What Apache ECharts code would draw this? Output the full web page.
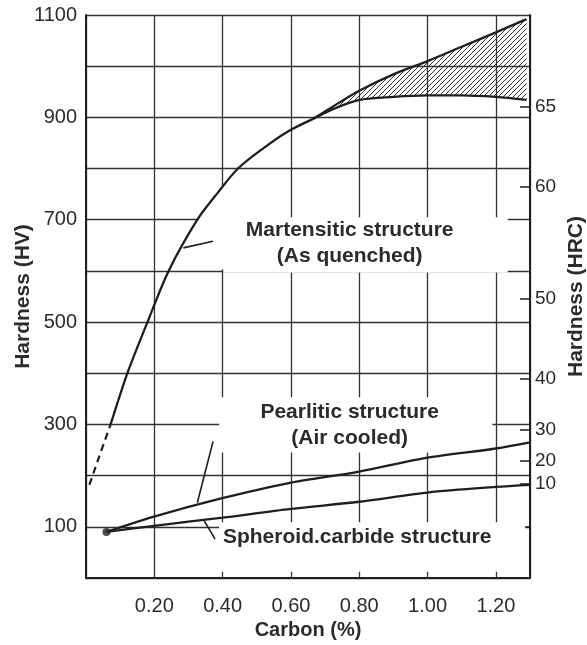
<!DOCTYPE html>
<html style="height: 100%">
<head>
<meta charset="utf-8">
<script src="https://cdn.jsdelivr.net/npm/echarts@6/dist/echarts.min.js"></script>
</head>
<body style="height: 100%; margin: 0; background: #fff">
<div id="container" style="width: 587px; height: 645px"></div>
<script type="text/javascript">
// carbon (%) vs hardness (HV)
var martDashed = [[0.01, 182], [0.04, 240], [0.072, 300]];
var martSolid = [[0.072, 300], [0.121, 400], [0.18, 500], [0.242, 600], [0.326, 700],
                 [0.385, 752], [0.445, 800], [0.52, 840], [0.59, 872], [0.665, 897]];
var hatchCarbon = [0.665, 0.72, 0.8, 0.9, 1.0, 1.1, 1.2, 1.29];
var hatchUpper = [897, 920, 952, 984, 1010, 1038, 1066, 1092];
var hatchLower = [897, 915, 934, 940, 943, 943, 940, 934];
var pearlitic = [[0.06, 90], [0.194, 119], [0.393, 155], [0.597, 186], [0.8, 208], [1.0, 235], [1.2, 253], [1.3, 265]];
var spheroid = [[0.06, 90], [0.2, 102], [0.4, 118], [0.6, 135], [0.8, 149], [1.0, 167], [1.2, 178], [1.3, 182]];
var startDot = [[0.06, 90]];

// leader lines from label to curve
var leaderMart = [[0.285, 645], [0.372, 658]];
var leaderPearl = [[0.326, 147], [0.372, 267]];
var leaderSpher = [[0.344, 114], [0.378, 76]];

// right axis: HRC scale placed against HV
var hrcLabels = ['65', '60', '50', '40', '30', '20', '10', ''];
var hrcAtHV = [921, 765, 545, 390, 290, 229, 185, 100];

// label texts (data position)
var notes = [
    {text: 'Martensitic structure\n(As quenched)', at: [0.772, 654], align: 'center'},
    {text: 'Pearlitic structure\n(Air cooled)', at: [0.772, 299], align: 'center'},
    {text: 'Spheroid.carbide structure', at: [0.401, 80], align: 'left'}
];
// white areas where the grid is blanked out behind the labels [x0, x1, hv0, hv1]
var blanks = [
    [0.402, 1.235, 597, 705],
    [0.33, 0.5, 603, 766],
    [0.39, 1.19, 245, 353],
    [0.39, 1.286, 12, 109]
];

var ink = '#1e1e1e';
var gridInk = '#333';
var numFont = '"Liberation Sans", Arial, sans-serif';

function hatch() {
    var c = document.createElement('canvas');
    c.width = 5; c.height = 5;
    var g = c.getContext('2d');
    g.strokeStyle = '#333';
    g.lineWidth = 1;
    g.beginPath();
    g.moveTo(0, 5); g.lineTo(5, 0);
    g.moveTo(-1, 1); g.lineTo(1, -1);
    g.moveTo(4, 6); g.lineTo(6, 4);
    g.stroke();
    return c;
}

var upperData = hatchCarbon.map(function (c, i) { return [c, hatchUpper[i]]; });
var lowerData = hatchCarbon.map(function (c, i) { return [c, hatchLower[i]]; });

function curve(data, extra) {
    var s = {
        type: 'line', data: data, showSymbol: false, smooth: 0.3,
        lineStyle: {color: ink, width: 2.3}, z: 3, silent: true
    };
    for (var k in extra) s[k] = extra[k];
    return s;
}

var pattern = hatch();
var hatchBand = {
    type: 'custom', silent: true, z: 2,
    data: [[hatchCarbon[0], hatchUpper[0]]],
    renderItem: function (params, api) {
        var pts = [];
        for (var i = 0; i < hatchCarbon.length; i++) pts.push(api.coord([hatchCarbon[i], hatchUpper[i]]));
        for (var j = hatchCarbon.length - 1; j >= 0; j--) pts.push(api.coord([hatchCarbon[j], hatchLower[j]]));
        return {type: 'polygon', shape: {points: pts}, style: {fill: {image: pattern, repeat: 'repeat'}, stroke: null}};
    }
};

var myChart = echarts.init(document.getElementById('container'));
var option = {
    animation: false,
    backgroundColor: '#fff',
    grid: {left: 86, right: 57, top: 15, bottom: 67, outerBoundsMode: 'none', containLabel: false},
    xAxis: {
        type: 'value', min: 0, max: 1.3, interval: 0.2,
        name: 'Carbon (%)', nameLocation: 'middle', nameGap: 42, nameMoveOverlap: false,
        nameTextStyle: {fontFamily: 'Liberation Sans, Arial', fontWeight: 'bold', fontSize: 20, color: '#2b2b2b'},
        axisLine: {lineStyle: {color: ink, width: 2}},
        axisTick: {show: false},
        axisLabel: {
            margin: 18, fontFamily: numFont, fontSize: 20, color: '#2b2b2b', showMaxLabel: false,
            formatter: function (v) { return (v < 0.1 || v > 1.25) ? '' : v.toFixed(2); }
        },
        splitLine: {show: true, lineStyle: {color: gridInk, width: 1.3}}
    },
    yAxis: [{
        type: 'value', min: 0, max: 1100, interval: 100,
        name: 'Hardness (HV)', nameLocation: 'middle', nameRotate: 90, nameGap: 52, nameMoveOverlap: false,
        nameTextStyle: {fontFamily: 'Liberation Sans, Arial', fontWeight: 'bold', fontSize: 21, color: '#2b2b2b'},
        axisLine: {show: true, lineStyle: {color: ink, width: 2}},
        axisTick: {show: false},
        axisLabel: {
            margin: 9, fontFamily: numFont, fontSize: 20, color: '#2b2b2b', padding: [6, 0, 0, 0],
            formatter: function (v) { return (v / 100) % 2 === 1 ? String(v) : ''; }
        },
        splitLine: {show: true, lineStyle: {color: gridInk, width: 1.3}}
    }, {
        type: 'value', min: 0, max: 1100, position: 'right',
        name: 'Hardness (HRC)', nameLocation: 'middle', nameRotate: 90, nameGap: 36, nameMoveOverlap: false,
        nameTextStyle: {fontFamily: 'Liberation Sans, Arial', fontWeight: 'bold', fontSize: 21, color: '#2b2b2b'},
        axisLine: {show: true, lineStyle: {color: ink, width: 2}},
        axisTick: {show: true, inside: true, length: 10, customValues: hrcAtHV, lineStyle: {color: ink, width: 1.5}},
        axisLabel: {
            margin: 5, fontFamily: numFont, fontSize: 19, color: '#2b2b2b',
            customValues: hrcAtHV,
            formatter: function (v) {
                var i = hrcAtHV.indexOf(v);
                return i < 0 ? '' : hrcLabels[i];
            }
        },
        splitLine: {show: false}
    }],
    series: [
        curve(martDashed, {smooth: false, lineStyle: {color: ink, width: 2.2, type: [7, 5]}}),
        curve(martSolid),
        hatchBand,
        curve(upperData),
        curve(lowerData),
        curve(pearlitic),
        curve(spheroid),
        curve(leaderMart, {smooth: false, lineStyle: {color: ink, width: 1.6}}),
        curve(leaderPearl, {smooth: false, lineStyle: {color: ink, width: 1.6}}),
        curve(leaderSpher, {smooth: false, lineStyle: {color: ink, width: 1.6}}),
        {type: 'scatter', data: startDot, symbolSize: 8, itemStyle: {color: ink}, z: 4, silent: true}
    ]
};
myChart.setOption(option);

// blank boxes and label texts, placed through the chart's own scales
var graphics = [];
blanks.forEach(function (b) {
    var p0 = myChart.convertToPixel({gridIndex: 0}, [b[0], b[3]]);
    var p1 = myChart.convertToPixel({gridIndex: 0}, [b[1], b[2]]);
    graphics.push({
        type: 'rect', z: 1, silent: true,
        shape: {x: p0[0], y: p0[1], width: p1[0] - p0[0], height: p1[1] - p0[1]},
        style: {fill: '#fff'}
    });
});
notes.forEach(function (n) {
    var p = myChart.convertToPixel({gridIndex: 0}, n.at);
    graphics.push({
        type: 'text', z: 5, silent: true, x: p[0], y: p[1],
        style: {
            text: n.text, fill: '#2b2b2b', textAlign: n.align, textVerticalAlign: 'middle',
            font: 'bold 21px "Liberation Sans", Arial, sans-serif', lineHeight: 26
        }
    });
});
myChart.setOption({graphic: graphics});
</script>
</body>
</html>
